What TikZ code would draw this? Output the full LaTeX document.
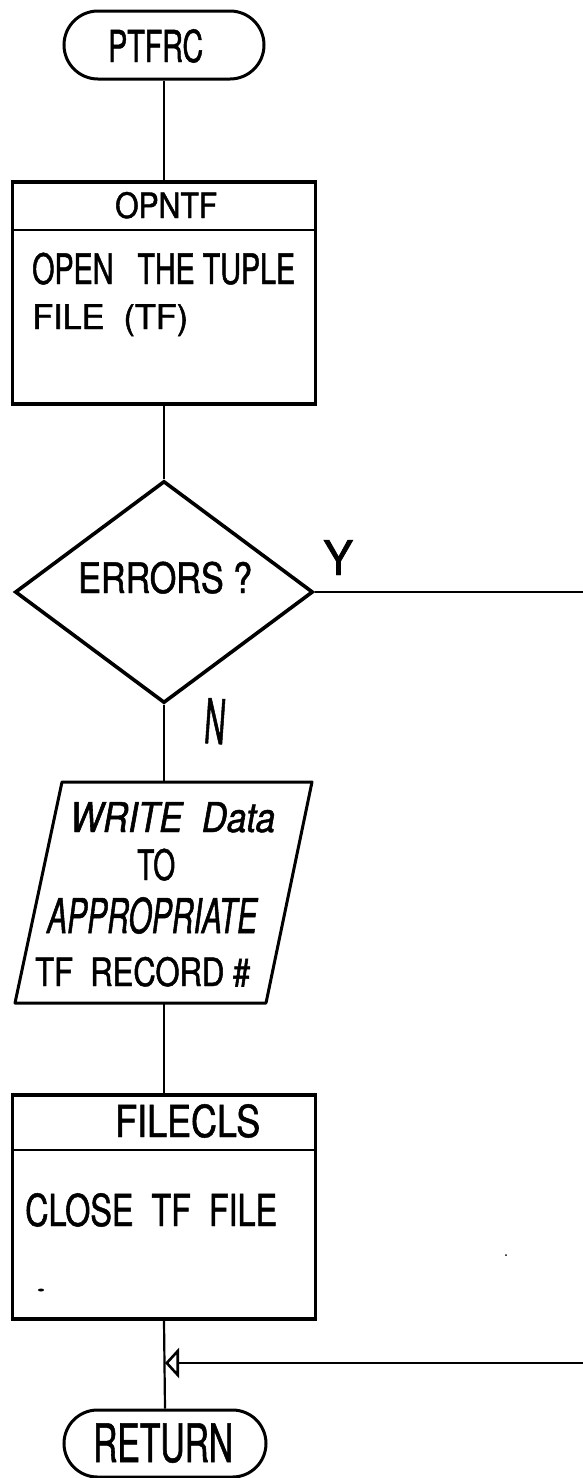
\documentclass[tikz,border=0pt]{standalone}
\usepackage{fontspec}
\setmainfont{TeX Gyre Heros}[FakeStretch=0.6, FakeBold=1]
\usetikzlibrary{shapes.geometric,shapes.misc,arrows.meta}
\newcommand{\fs}[1]{\fontsize{#1}{#1}\selectfont}
\newcommand{\tw}[2]{\resizebox{#1pt}{\height}{#2}}
\tikzset{
  term/.style={draw, rounded rectangle, line width=3pt, minimum width=200pt, minimum height=68pt, inner sep=0pt},
  procbox/.style={draw, rectangle, line width=3.2pt, minimum width=303pt, inner sep=0pt},
  decision/.style={draw, diamond, line width=3.6pt, minimum width=298pt, minimum height=222pt, inner sep=0pt},
  holder/.style={inner sep=0pt, minimum width=250pt, minimum height=221pt},
  outline/.style={line width=3pt, line join=round},
  sepline/.style={line width=2.8pt},
  conn/.style={line width=2.2pt},
  lbl/.style={inner sep=0pt, anchor=base west},
}
\begin{document}
\begin{tikzpicture}[x=1pt,y=-1pt]
\useasboundingbox (0,0) rectangle (583,1478);
% start terminal
\node[term] (start) at (164,45) {};
\node[lbl, font=\fs{44}] (startt) at (108,62) {\tw{95}{PTFRC}};
% OPNTF box
\node[procbox, minimum height=222pt] (opntf) at (164,293) {};
\draw[sepline] (opntf.west |- 0,230) -- (opntf.east |- 0,230);
\node[lbl, font=\fs{35}] (opntfh) at (115,218) {\tw{102}{OPNTF}};
\node[lbl, font=\fs{42}] (opntf1) at (32,284) {\tw{263}{OPEN\ \ \ THE TUPLE}};
\node[lbl, font=\fs{34}] (opntf2) at (32,329) {\tw{156}{FILE\ \ (TF)}};
% decision
\node[decision] (dia) at (164,592) {};
\node[lbl, font=\fs{42}] (diat) at (78,593) {\tw{174}{ERRORS\ ?}};
\node[lbl, font=\fs{48}] (ylab) at (323,575) {\tw{30}{Y}};
\node[lbl, font=\fs{62}, rotate=-4] (nlab) at (203,743) {\tw{21}{N}};
% write parallelogram
\draw[outline] (62,782) -- (312,782) -- (266,1003) -- (15,1003) -- cycle;
\node[holder] (write) at (164,892.5) {};
\node[lbl, font=\itshape\fs{41}] (w1) at (70,832) {\tw{205}{WRITE\ \ Data}};
\node[lbl, font=\fs{42}] (w2) at (137,880) {\tw{38}{TO}};
\node[lbl, font=\itshape\fs{48}] (w3) at (47,933) {\tw{210}{APPROPRIATE}};
\node[lbl, font=\fs{39}] (w4) at (35,986) {\tw{215}{TF\ \ RECORD\,\#}};
% FILECLS box
\node[procbox, minimum height=224pt] (filecls) at (164,1207) {};
\draw[sepline] (filecls.west |- 0,1150) -- (filecls.east |- 0,1150);
\node[lbl, font=\fs{44}] (fileclsh) at (115,1137) {\tw{145}{FILECLS}};
\node[lbl, font=\fs{44}] (filecls1) at (25,1226) {\tw{252}{CLOSE\ \ TF\ \ FILE}};
\fill (41,1290) ellipse (3pt and 1.5pt);
\fill (506,1255) circle (1pt);
% return terminal
\node[term, minimum width=202pt, minimum height=67pt] (ret) at (165,1443.5) {};
\node[lbl, font=\fs{53}] (rett) at (93,1462) {\tw{140}{RETURN}};
% connectors
\coordinate (yend) at (583,592);
\coordinate (rin) at (583,1363);
\coordinate (join) at (165,1363);
\draw[conn] (start.south) -- (opntf.north);
\draw[conn] (opntf.south) -- (dia.north);
\draw[conn] (dia.east) -- (yend);
\draw[conn] (dia.south) -- (write.north);
\draw[conn] (write.south) -- (filecls.north);
\draw[conn] (filecls.south) -- (ret.north);
\draw[conn, -{Triangle[open, length=14pt, width=30pt, line width=2.6pt]}] (rin) -- (join);
\end{tikzpicture}
\end{document}
